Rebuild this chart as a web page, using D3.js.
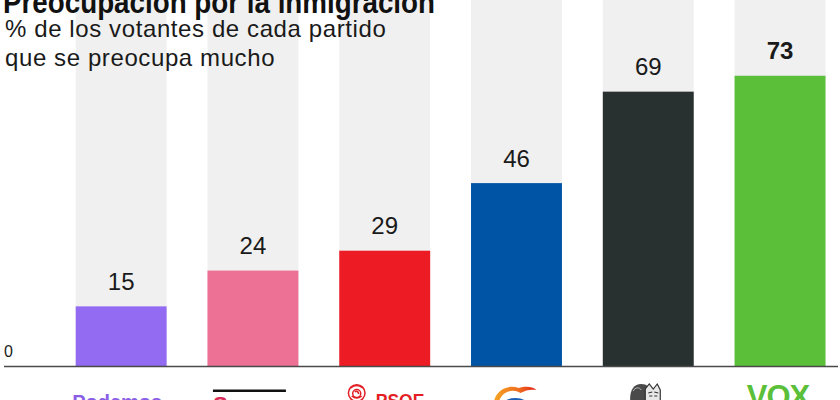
<!DOCTYPE html>
<html><head><meta charset="utf-8">
<script src="https://cdn.jsdelivr.net/npm/d3@7"></script>
<style>
html,body{margin:0;padding:0;background:#fff;}
svg{display:block;font-family:"Liberation Sans",Arial,sans-serif;}
</style></head>
<body><svg id="c" width="840" height="400"></svg>
<script>
const title = "Preocupación por la inmigración";
const subtitle = ["% de los votantes de cada partido", "que se preocupa mucho"];
const parties = ["Podemos", "Sumar", "PSOE", "PP", "SALF", "VOX"];
const values = [15, 24, 29, 46, 69, 73];
const colors = ["#926bf2", "#ec7195", "#ed1c24", "#0054a6", "#293030", "#5cbf3a"];
const yTicks = [0];
const maxValue = 100;

const svg = d3.select("#c");
const baseY = 366;

const x = d3.scaleBand().domain(parties).range([75.7, 825.5]).paddingInner(0.31).paddingOuter(0);
const y = d3.scaleLinear().domain([0, maxValue]).range([baseY, baseY - 3.976 * maxValue]);

// background columns
svg.append("g").selectAll("rect").data(parties).join("rect")
  .attr("x", d => x(d)).attr("width", x.bandwidth())
  .attr("y", y(maxValue)).attr("height", y(0) - y(maxValue))
  .attr("fill", "#f0f0f0");

// bars
svg.append("g").selectAll("rect").data(values).join("rect")
  .attr("x", (d, i) => x(parties[i])).attr("width", x.bandwidth())
  .attr("y", d => y(d)).attr("height", d => y(0) - y(d))
  .attr("fill", (d, i) => colors[i]);

// value labels
const maxV = d3.max(values);
svg.append("g").selectAll("text").data(values).join("text")
  .attr("x", (d, i) => x(parties[i]) + x.bandwidth() / 2)
  .attr("y", d => y(d) - 16.5)
  .attr("text-anchor", "middle")
  .attr("font-size", 24)
  .attr("font-weight", d => d === maxV ? "bold" : "normal")
  .attr("fill", "#1a1a1a")
  .text(d => d);

// baseline axis
svg.append("line").attr("x1", 4).attr("x2", 838).attr("y1", y(0) + 0.5).attr("y2", y(0) + 0.5)
  .attr("stroke", "#4a4a4a").attr("stroke-width", 1.3);
svg.append("g").selectAll("text").data(yTicks).join("text")
  .attr("x", 4).attr("y", d => y(d) - 9)
  .attr("font-size", 16).attr("fill", "#222").text(d => d);

// title + subtitle
svg.append("text").attr("x", 3).attr("y", 12.8)
  .attr("font-size", 31).attr("font-weight", "bold").attr("fill", "#111")
  .attr("textLength", 432).attr("lengthAdjust", "spacingAndGlyphs").text(title);
svg.append("g").selectAll("text").data(subtitle).join("text")
  .attr("x", 5).attr("y", (d, i) => 37.3 + i * 28.5)
  .attr("font-size", 24).attr("letter-spacing", 0.6).attr("fill", "#1a1a1a").text(d => d);

// party logos (approximated, cut off at bottom)
const cx = p => x(p) + x.bandwidth() / 2;
const logos = svg.append("g");
// Podemos
logos.append("text").attr("x", cx("Podemos") - 4).attr("y", 408.5).attr("text-anchor", "middle")
  .attr("font-size", 20).attr("font-weight", "bold").attr("fill", "#8a5fe6").text("Podemos");
// Sumar
logos.append("rect").attr("x", cx("Sumar") - 40).attr("y", 389.5).attr("width", 73).attr("height", 2.5).attr("fill", "#111");
logos.append("text").attr("x", cx("Sumar") - 40).attr("y", 412).attr("font-size", 22).attr("font-weight", "bold")
  .attr("fill", "#d92a57").text("S").append("tspan").attr("fill", "#bbb").attr("font-weight", "normal").text("umar");
// PSOE
const rose = logos.append("g").attr("transform", `translate(${cx("PSOE") - 28},393)`)
  .attr("fill", "none").attr("stroke", "#e31e24").attr("stroke-width", 1.5);
rose.append("circle").attr("r", 8.3);
rose.append("circle").attr("r", 4).attr("cy", 0.5);
rose.append("path").attr("d", "M-6,-5 Q0,-10 6,-5 M-5,3 Q0,7 5,3 M-2,-1 Q1,-3 2,1");
logos.append("text").attr("x", cx("PSOE") - 9).attr("y", 406.8).attr("font-size", 17.5).attr("font-weight", "bold")
  .attr("fill", "#e31e24").text("PSOE");
// PP
const ppG = logos.append("g").attr("transform", `translate(${cx("PP") - 2},400)`);
const grad = svg.append("defs").append("linearGradient").attr("id", "ppg").attr("x1", "0").attr("x2", "1");
grad.append("stop").attr("offset", "0").attr("stop-color", "#f5a623");
grad.append("stop").attr("offset", "0.6").attr("stop-color", "#ef6b1f");
grad.append("stop").attr("offset", "1").attr("stop-color", "#e2231a");
ppG.append("path").attr("d", "M-21,6 C-21,-10 -6,-16 4,-12 C10,-14 18,-14 22,-10 C17,-11 11,-10 6,-7 C-4,-13 -16,-6 -16,6 Z")
  .attr("fill", "url(#ppg)");
ppG.append("ellipse").attr("cx", 1).attr("cy", 8).attr("rx", 15).attr("ry", 10).attr("fill", "#1a5fb4");
ppG.append("text").attr("x", 1).attr("y", 12).attr("text-anchor", "middle").attr("font-size", 12).attr("font-weight", "bold")
  .attr("fill", "#fff").text("PP");
// SALF (face drawing)
const f = logos.append("g").attr("transform", `translate(${cx("SALF") - 3},393)`);
f.append("path").attr("d", "M-15,9 C-16,-2 -12,-9 -4,-9 C2,-9 4,-6 4,-2 L4,9 Z").attr("fill", "#4a4a4a");
f.append("path").attr("d", "M-12,-2 C-10,-6 -6,-6 -4,-3").attr("stroke", "#bbb").attr("fill", "none");
f.append("path").attr("d", "M0,9 L0,-4 L4,-9 L8,-4 L12,-9 L15,-3 L15,9 Z").attr("fill", "#e8e8e8").attr("stroke", "#333").attr("stroke-width", 1.2);
f.append("path").attr("d", "M3,0 L7,-1 M9,-1 L13,0 M4,3 L7,3 M9,3 L12,3").attr("stroke", "#333").attr("stroke-width", 1.2);
// VOX
logos.append("text").attr("x", cx("VOX") - 2).attr("y", 407).attr("text-anchor", "middle")
  .attr("font-size", 31).attr("font-weight", "bold").attr("letter-spacing", -1).attr("fill", "#5bbf3a").text("VOX");
</script></body></html>
